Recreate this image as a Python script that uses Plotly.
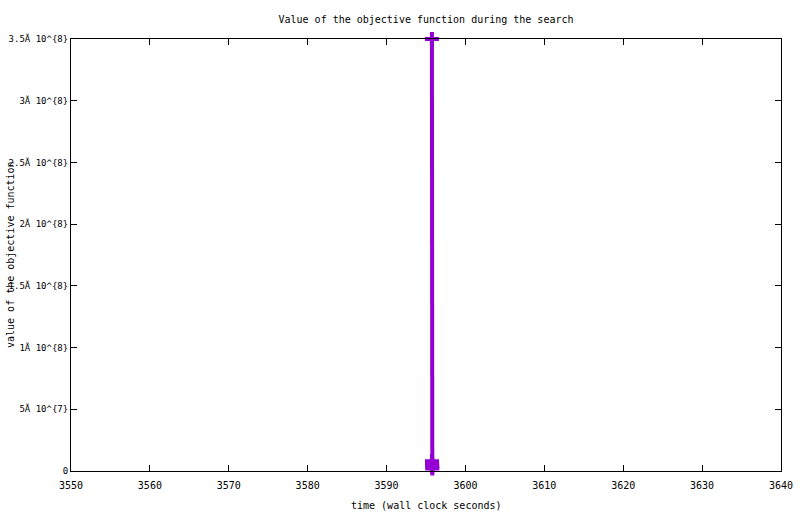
import plotly.graph_objects as go

# Data
times = [3595.75, 3595.76, 3595.77, 3595.78, 3595.79, 3595.80]
values = [3.5e8, 8.0e6, 6.5e6, 5.0e6, 3.5e6, 2.0e6]

x_ticks = [3550, 3560, 3570, 3580, 3590, 3600, 3610, 3620, 3630, 3640]
y_ticks = [0, 5e7, 1e8, 1.5e8, 2e8, 2.5e8, 3e8, 3.5e8]
y_ticktext = ["0", "5\u0102 10^{7}", "1\u0102 10^{8}", "1.5\u0102 10^{8}", "2\u0102 10^{8}",
              "2.5\u0102 10^{8}", "3\u0102 10^{8}", "3.5\u0102 10^{8}"]

color = "#9400D3"
font = dict(family="DejaVu Sans Mono", size=10, color="black")
yfont = dict(family="DejaVu Sans Mono", size=9, color="black")

W, H = 800, 514
L, T, R, B = 71, 39, 19, 43
PW = W - L - R
PH = H - T - B

fig = go.Figure()
fig.add_trace(go.Scatter(
    x=times, y=values, mode="lines+markers",
    line=dict(color=color, width=4),
    marker=dict(symbol="cross-thin", size=10, line=dict(color=color, width=4), color=color),
    showlegend=False, cliponaxis=False,
))

axis_common = dict(showgrid=False, zeroline=False, showline=True, linecolor="black", linewidth=1,
                   mirror="ticks", ticks="inside", ticklen=6, tickcolor="black", tickwidth=1)

fig.update_xaxes(range=[3550, 3640], tickvals=x_ticks, ticktext=[str(v) for v in x_ticks],
                 ticklabelstandoff=5, tickfont=font, **axis_common)
fig.update_yaxes(range=[0, 3.5e8], tickvals=y_ticks, ticktext=y_ticktext,
                 tickfont=yfont, **axis_common)

fig.update_layout(
    width=W, height=H,
    margin=dict(l=L, r=R, t=T, b=B, autoexpand=False),
    paper_bgcolor="white", plot_bgcolor="white",
    font=font,
    title=dict(text="Value of the objective function during the search",
               x=426 / W, xanchor="center",
               y=1 - 19 / H, yanchor="middle", font=font),
    annotations=[
        dict(text="time (wall clock seconds)", xref="paper", yref="paper",
             x=0.5, y=-(505 - 471) / PH, xanchor="center", yanchor="middle",
             showarrow=False, font=font),
        dict(text="value of the objective function", xref="paper", yref="paper",
             x=(10 - 71) / PW, y=0.5, xanchor="center", yanchor="middle", textangle=-90,
             showarrow=False, font=font),
    ],
)

fig.write_html("out.html", config={"displayModeBar": False},
               post_script="document.body.style.margin='0';")
